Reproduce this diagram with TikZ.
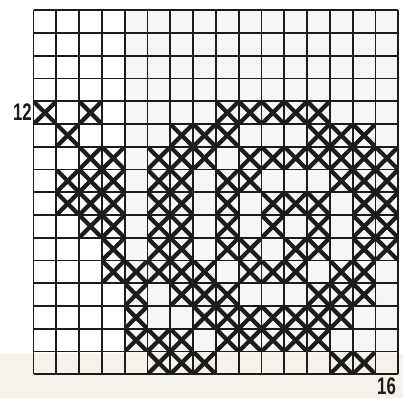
\documentclass[tikz,border=0pt]{standalone}
\usepackage{graphicx}
\usepackage{fontspec}
\newfontfamily\labfont{Liberation Sans}
\definecolor{paper}{RGB}{246,241,233}
\definecolor{ink}{RGB}{28,28,28}
\tikzset{
  gridline/.style={draw=ink, line width=1.7pt},
  xline/.style={draw=ink, line width=4.2pt},
  lab/.style={inner sep=0pt, text=ink, font=\labfont\bfseries\fontsize{24}{24}\selectfont}
}
\begin{document}
\begin{tikzpicture}[x=1pt,y=-1pt]
\useasboundingbox (0,0) rectangle (403,398);
\fill[white] (0,0) rectangle (403,398);
\fill[paper] (0,354) rectangle (403,398);
\fill[gray!7] (125,10.3) rectangle (398.3,354);
% grid
\foreach \i in {0,...,16}{
  \draw[gridline] ({33.5+22.8*\i},10.3) -- ({33.5+22.8*\i},374.3);
  \draw[gridline] (33.5,{10.3+22.75*\i}) -- (398.3,{10.3+22.75*\i});
}
% crosses
\foreach \r/\cols in {
  5/{1,3,9,10,11,12,13},
  6/{2,7,8,9,13,14,15},
  7/{3,4,6,7,8,10,11,12,13,14,15,16},
  8/{2,3,4,6,7,9,10,14,15,16},
  9/{2,3,4,6,7,9,11,12,13,15,16},
  10/{3,4,6,7,9,11,13,15,16},
  11/{4,6,7,9,10,12,13,15,16},
  12/{4,5,6,7,8,10,11,12,14,15},
  13/{5,7,8,9,13,14,15},
  14/{5,8,9,10,11,12,13,14},
  15/{5,6,7,9,10,11,12,13},
  16/{6,7,8,14,15}}{
  \foreach \c in \cols {
    \pgfmathsetmacro{\xa}{33.5+22.8*(\c-1)+0.8}
    \pgfmathsetmacro{\xb}{33.5+22.8*\c-0.8}
    \pgfmathsetmacro{\ya}{10.3+22.75*(\r-1)+0.8}
    \pgfmathsetmacro{\yb}{10.3+22.75*\r-0.8}
    \draw[xline] (\xa,\ya) -- (\xb,\yb);
    \draw[xline] (\xa,\yb) -- (\xb,\ya);
  }
}
\node[lab] (lab12) at (22.5,112.5) {\scalebox{0.7}[1]{12}};
\node[lab] (lab16) at (386.5,386) {\scalebox{0.7}[1]{16}};
\end{tikzpicture}
\end{document}
